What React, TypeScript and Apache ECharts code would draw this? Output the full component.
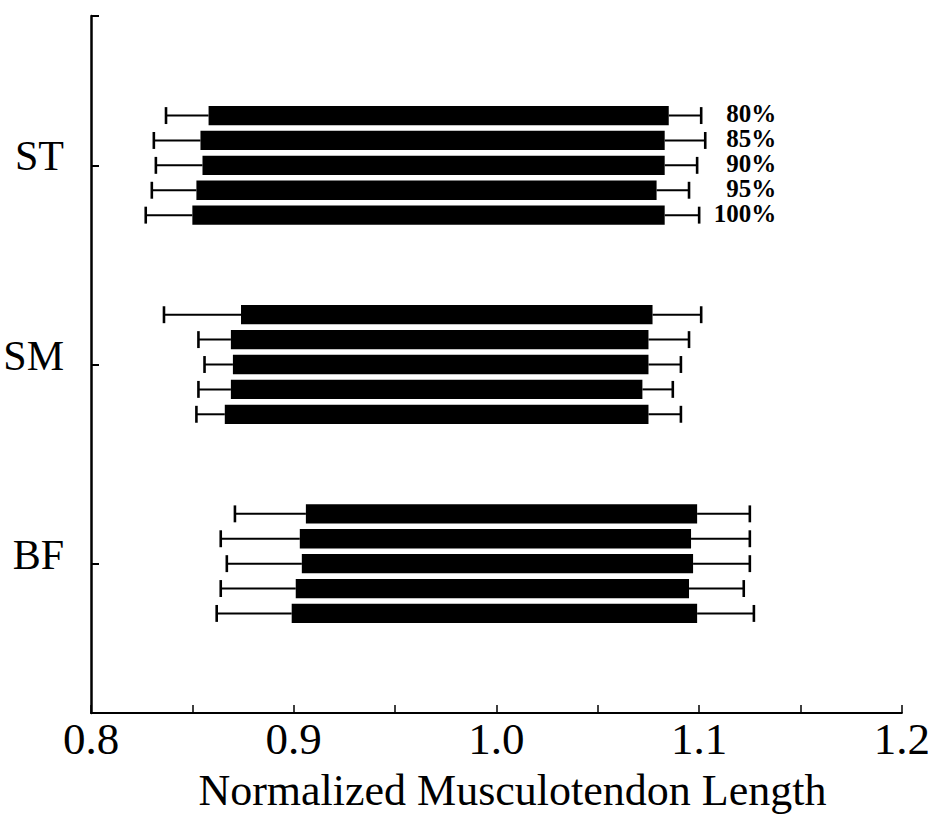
import React, { useEffect, useRef } from "react";
import * as echarts from "echarts";

// Muscle groups on the vertical axis (top to bottom)
const MUSCLES = ["ST", "SM", "BF"];
// Walking speed conditions, one bar per condition within each muscle
const SPEEDS = ["80%", "85%", "90%", "95%", "100%"];

// Range of normalized length (bar start / bar end) per muscle, per speed
const ST_MIN = [0.858, 0.854, 0.855, 0.852, 0.85];
const ST_MAX = [1.085, 1.083, 1.083, 1.079, 1.083];
const SM_MIN = [0.874, 0.869, 0.87, 0.869, 0.866];
const SM_MAX = [1.077, 1.075, 1.075, 1.072, 1.075];
const BF_MIN = [0.906, 0.903, 0.904, 0.901, 0.899];
const BF_MAX = [1.099, 1.096, 1.097, 1.095, 1.099];

// Error bar extents (whisker ends)
const ST_LOW = [0.837, 0.831, 0.832, 0.83, 0.827];
const ST_HIGH = [1.101, 1.103, 1.099, 1.095, 1.1];
const SM_LOW = [0.836, 0.853, 0.856, 0.853, 0.852];
const SM_HIGH = [1.101, 1.095, 1.091, 1.087, 1.091];
const BF_LOW = [0.871, 0.864, 0.867, 0.864, 0.862];
const BF_HIGH = [1.125, 1.125, 1.125, 1.122, 1.127];

const X_TICKS_MAJOR = [0.8, 0.9, 1.0, 1.1, 1.2];
const LABEL_X = 1.138; // right edge of the speed labels, in data units

const groups = [
  { min: ST_MIN, max: ST_MAX, low: ST_LOW, high: ST_HIGH },
  { min: SM_MIN, max: SM_MAX, low: SM_LOW, high: SM_HIGH },
  { min: BF_MIN, max: BF_MAX, low: BF_LOW, high: BF_HIGH },
];

const OFFSET = 0.125; // vertical spacing between bars of one muscle
const rows: number[][] = [];
groups.forEach((g, gi) => {
  SPEEDS.forEach((_, si) => {
    const y = gi + 1 + (si - 2) * OFFSET;
    rows.push([y, g.min[si], g.max[si], g.low[si], g.high[si], gi, si]);
  });
});

const FONT = "Liberation Serif, Times New Roman, serif";

export default function App() {
  const ref = useRef<HTMLDivElement>(null);
  useEffect(() => {
    if (!ref.current) return;
    const chart = echarts.init(ref.current, null, { renderer: "svg" });
    chart.setOption({
      animation: false,
      backgroundColor: "#ffffff",
      grid: { left: 91, right: 31, top: 16, bottom: 103 },
      xAxis: {
        type: "value",
        min: 0.8,
        max: 1.2,
        interval: 0.05,
        name: "Normalized Musculotendon Length",
        nameLocation: "middle",
        nameGap: 55,
        nameTextStyle: {
          fontFamily: FONT,
          fontSize: 44,
          color: "#000",
          padding: [0, 0, 0, 32],
        },
        axisLine: { lineStyle: { color: "#000", width: 2 } },
        axisTick: { inside: true, length: 8, lineStyle: { color: "#000", width: 1.5 } },
        splitLine: { show: false },
        axisLabel: {
          margin: 3,
          fontFamily: FONT,
          fontSize: 45,
          color: "#000",
          formatter: (v: number) => {
            const hit = X_TICKS_MAJOR.find((t) => Math.abs(t - v) < 1e-6);
            return hit !== undefined ? hit.toFixed(1) : "";
          },
        },
      },
      yAxis: {
        type: "value",
        inverse: true,
        min: 0.25,
        max: 3.75,
        axisLine: { lineStyle: { color: "#000", width: 2.5 } },
        axisTick: {
          inside: true,
          length: 8,
          customValues: [0.25, 1, 2, 3],
          lineStyle: { color: "#000", width: 2 },
        },
        splitLine: { show: false },
        axisLabel: {
          customValues: [1, 2, 3],
          margin: 27,
          fontFamily: FONT,
          fontSize: 42,
          color: "#000",
          verticalAlign: "bottom",
          lineHeight: 18,
          formatter: (v: number) => MUSCLES[Math.round(v) - 1] ?? "",
        },
      },
      series: [
        {
          type: "custom",
          data: rows,
          encode: { x: [1, 2, 3, 4], y: 0 },
          renderItem: (params: any, api: any) => {
            const y = api.value(0);
            const b0 = api.coord([api.value(1), y]);
            const b1 = api.coord([api.value(2), y]);
            const w0 = api.coord([api.value(3), y]);
            const w1 = api.coord([api.value(4), y]);
            const barH = api.size([0, 0.097])[1];
            const capH = api.size([0, 0.085])[1];
            const line = (x1: number, y1: number, x2: number, y2: number, w: number) => ({
              type: "line",
              shape: { x1, y1, x2, y2 },
              style: { stroke: "#000", lineWidth: w },
            });
            const children: any[] = [
              line(w0[0], w0[1], b0[0], b0[1], 2),
              line(b1[0], b1[1], w1[0], w1[1], 2),
              line(w0[0], w0[1] - capH / 2, w0[0], w0[1] + capH / 2, 2.6),
              line(w1[0], w1[1] - capH / 2, w1[0], w1[1] + capH / 2, 2.6),
              {
                type: "rect",
                shape: { x: b0[0], y: b0[1] - barH / 2, width: b1[0] - b0[0], height: barH },
                style: { fill: "#000" },
              },
            ];
            if (api.value(5) === 0) {
              const lp = api.coord([LABEL_X, y]);
              children.push({
                type: "text",
                x: lp[0],
                y: lp[1] - 2,
                style: {
                  text: SPEEDS[api.value(6)],
                  fontFamily: FONT,
                  fontSize: 25,
                  lineHeight: 22,
                  fontWeight: "bold",
                  fill: "#000",
                  align: "right",
                  verticalAlign: "middle",
                },
              });
            }
            return { type: "group", children };
          },
        },
      ],
    });
    return () => chart.dispose();
  }, []);
  return (
    <div
      ref={ref}
      style={{ position: "absolute", left: 0, top: 0, width: 933, height: 817 }}
    />
  );
}
